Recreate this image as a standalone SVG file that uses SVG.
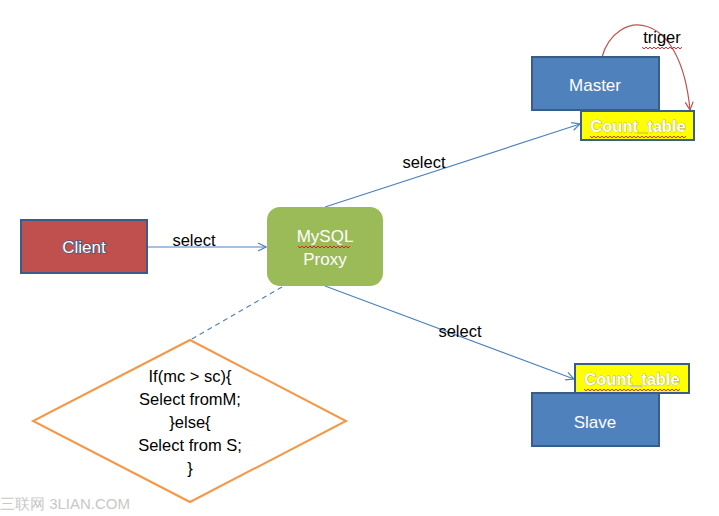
<svg xmlns="http://www.w3.org/2000/svg" width="719" height="516" viewBox="0 0 719 516">
<style>
  text { font-family: "Liberation Sans", "Noto Sans", Arial, sans-serif; }
  .lbl { font-size: 16.5px; fill: #000; text-anchor: middle; }
  .box { stroke: #385D8A; stroke-width: 2; }
  .wt { font-size: 17px; fill: #fff; text-anchor: middle; }
  .ct { font-size: 16.5px; font-weight: bold; fill: #fff; text-anchor: middle; stroke: #8a8a5a; stroke-width: 0.6; paint-order: stroke; }
  .conn { stroke: #4F81BD; stroke-width: 1.2; fill: none; }
  .wavy { stroke: #e00000; stroke-width: 0.8; fill: none; }
</style>
<defs>
  <marker id="arr" markerWidth="10" markerHeight="10" refX="9" refY="5" orient="auto" markerUnits="userSpaceOnUse">
    <path d="M1,1 L9,5 L1,9" fill="none" stroke="#4F81BD" stroke-width="1.2"/>
  </marker>
  <marker id="arrRed" markerWidth="10" markerHeight="10" refX="9" refY="5" orient="auto" markerUnits="userSpaceOnUse">
    <path d="M1,1 L9,5 L1,9" fill="none" stroke="#C0504D" stroke-width="1.2"/>
  </marker>
</defs>
<rect width="719" height="516" fill="#fff"/>

<g id="connectors">
  <line class="conn" x1="147" y1="247" x2="266" y2="247" marker-end="url(#arr)"/>
  <line class="conn" x1="325" y1="207" x2="580" y2="124" marker-end="url(#arr)"/>
  <line class="conn" x1="325" y1="286" x2="574" y2="379" marker-end="url(#arr)"/>
  <line class="conn" x1="282" y1="287" x2="190" y2="340" stroke-dasharray="5,4"/>
  <path d="M602,57 C615,10 680,5 690,110" fill="none" stroke="#C0504D" stroke-width="1.2" marker-end="url(#arrRed)"/>
  <text class="lbl" x="194" y="246">select</text>
  <text class="lbl" x="424" y="168">select</text>
  <text class="lbl" x="460" y="337">select</text>
  <text class="lbl" x="662" y="43">triger</text>
  <path class="wavy" d="M642,47 l2,2 l2,-2 l2,2 l2,-2 l2,2 l2,-2 l2,2 l2,-2 l2,2 l2,-2 l2,2 l2,-2 l2,2 l2,-2 l2,2 l2,-2 l2,2 l2,-2 l2,2 l2,-2"/>
</g>

<g id="client">
  <rect class="box" x="21" y="220" width="126" height="53" fill="#C0504D"/>
  <text class="wt" x="84" y="253" stroke="#385D8A" stroke-width="1.5" paint-order="stroke">Client</text>
</g>

<g id="proxy">
  <rect x="267" y="207" width="116" height="79" rx="13" fill="#9BBB59"/>
  <text class="wt" x="325" y="242">MySQL</text>
  <text class="wt" x="325" y="265">Proxy</text>
  <path class="wavy" d="M298,246 l2,2 l2,-2 l2,2 l2,-2 l2,2 l2,-2 l2,2 l2,-2 l2,2 l2,-2 l2,2 l2,-2 l2,2 l2,-2 l2,2 l2,-2 l2,2 l2,-2 l2,2 l2,-2 l2,2 l2,-2 l2,2 l2,-2 l2,2 l2,-2"/>
</g>

<g id="master">
  <rect class="box" x="532" y="57" width="127" height="53" fill="#4F81BD"/>
  <text class="wt" x="595" y="91">Master</text>
</g>

<g id="count-table-master">
  <rect class="box" x="581" y="111" width="113" height="29" fill="#FFFF00"/>
  <text class="ct" x="638" y="132">Count_table</text>
  <path class="wavy" d="M590,136 l2,2 l2,-2 l2,2 l2,-2 l2,2 l2,-2 l2,2 l2,-2 l2,2 l2,-2 l2,2 l2,-2 l2,2 l2,-2 l2,2 l2,-2 l2,2 l2,-2 l2,2 l2,-2 l2,2 l2,-2 l2,2 l2,-2 l2,2 l2,-2 l2,2 l2,-2 l2,2 l2,-2 l2,2 l2,-2 l2,2 l2,-2 l2,2 l2,-2 l2,2 l2,-2 l2,2 l2,-2 l2,2 l2,-2 l2,2 l2,-2 l2,2 l2,-2 l2,2 l2,-2"/>
</g>

<g id="slave">
  <rect class="box" x="532" y="393" width="127" height="53" fill="#4F81BD"/>
  <text class="wt" x="595" y="428">Slave</text>
</g>

<g id="count-table-slave">
  <rect class="box" x="575" y="364" width="114" height="29" fill="#FFFF00"/>
  <text class="ct" x="632" y="385">Count_table</text>
  <path class="wavy" d="M584,389 l2,2 l2,-2 l2,2 l2,-2 l2,2 l2,-2 l2,2 l2,-2 l2,2 l2,-2 l2,2 l2,-2 l2,2 l2,-2 l2,2 l2,-2 l2,2 l2,-2 l2,2 l2,-2 l2,2 l2,-2 l2,2 l2,-2 l2,2 l2,-2 l2,2 l2,-2 l2,2 l2,-2 l2,2 l2,-2 l2,2 l2,-2 l2,2 l2,-2 l2,2 l2,-2 l2,2 l2,-2 l2,2 l2,-2 l2,2 l2,-2 l2,2 l2,-2 l2,2 l2,-2"/>
</g>

<g id="decision">
  <polygon points="190,340 346,421 190,502 33,421" fill="#fff" stroke="#F79646" stroke-width="2"/>
  <text class="lbl" x="190" y="382">If(mc &gt; sc){</text>
  <text class="lbl" x="190" y="405">Select fromM;</text>
  <text class="lbl" x="190" y="428">}else{</text>
  <text class="lbl" x="190" y="451">Select from S;</text>
  <text class="lbl" x="190" y="474">}</text>
</g>

<text x="0" y="509" font-size="15" fill="#c8c8c8" font-family="'Noto Sans CJK SC', 'Liberation Sans', sans-serif">三联网 3LIAN.COM</text>
</svg>
